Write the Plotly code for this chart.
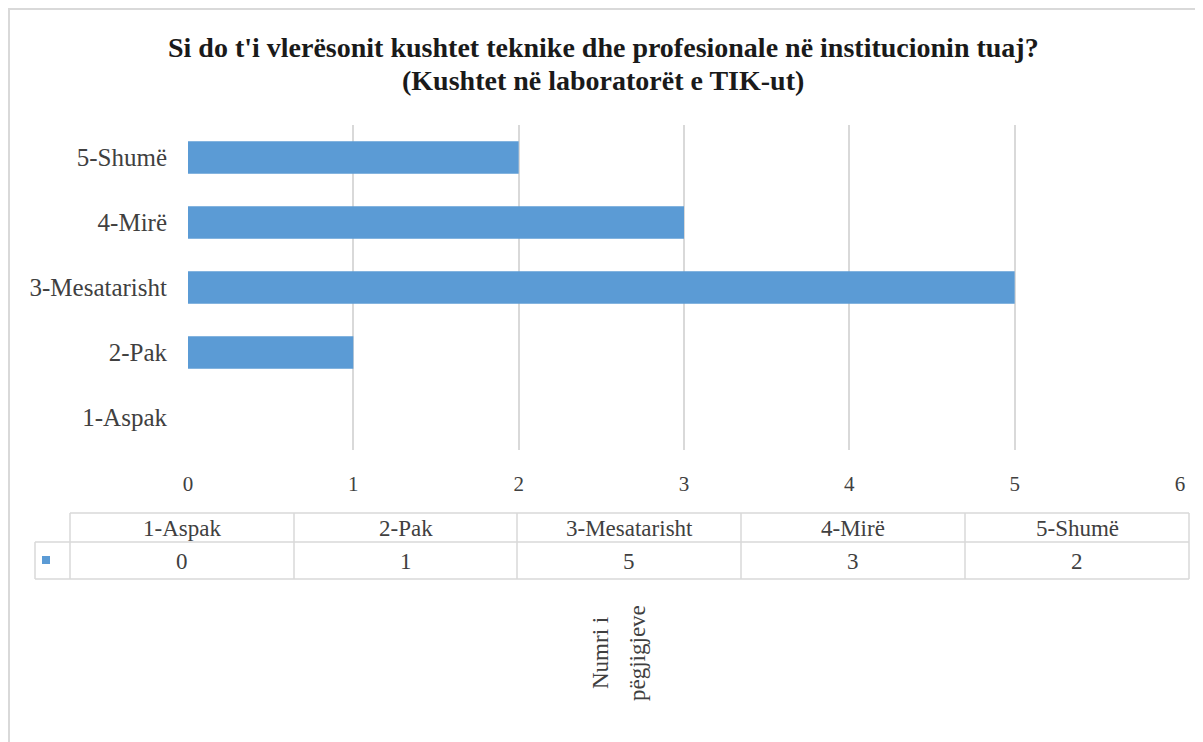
import plotly.graph_objects as go

categories = ["1-Aspak", "2-Pak", "3-Mesatarisht", "4-Mirë", "5-Shumë"]
values = [0, 1, 5, 3, 2]
x_ticks = [0, 1, 2, 3, 4, 5, 6]
title_lines = ["Si do t'i vlerësonit kushtet teknike dhe profesionale në institucionin tuaj?",
               "(Kushtet në laboratorët e TIK-ut)"]
axis_title_lines = ["Numri i", "pëgjigjeve"]

# page body has an 8px margin; reference pixel coords are converted accordingly
OFF = 8
W, H = 1203 - OFF, 742 - OFF
PL, PR, PT, PB = 188, 1180, 125, 450          # plot area in reference pixels
L, R, T, B = PL - OFF, (1203 - PR), PT - OFF, 742 - PB
BAR = "#5b9bd5"
GRID = "#d9d9d9"
TXT = "#404040"
FONT = "Liberation Serif"


def px(x):
    return (x - PL) / (PR - PL)


def py(y):
    return (PB - y) / (PB - PT)


fig = go.Figure(go.Bar(
    x=values, y=categories, orientation="h",
    marker=dict(color=BAR, line=dict(width=0)), width=0.5,
    hoverinfo="x+y", showlegend=False))

shapes = []
annotations = []


def line(x0, y0, x1, y1, color=GRID, w=1.5):
    shapes.append(dict(type="line", xref="paper", yref="paper",
                       x0=px(x0), y0=py(y0), x1=px(x1), y1=py(y1),
                       line=dict(color=color, width=w)))


# outer chart border
shapes.append(dict(type="rect", xref="paper", yref="paper",
                   x0=px(9), y0=py(9), x1=px(1215), y1=py(760),
                   line=dict(color=GRID, width=2), fillcolor="rgba(0,0,0,0)", layer="below"))

# data table below the chart
col_edges = [70, 294, 517, 741, 965, 1189]
y_top, y_mid, y_bot = 513, 542, 579
line(col_edges[0], y_top, col_edges[-1], y_top)
line(35, y_mid, col_edges[-1], y_mid)
line(35, y_bot, col_edges[-1], y_bot)
line(35, y_mid, 35, y_bot)
for xe in col_edges:
    line(xe, y_top, xe, y_bot)
shapes.append(dict(type="rect", xref="paper", yref="paper",
                   x0=px(42), y0=py(556), x1=px(50), y1=py(564),
                   line=dict(width=0), fillcolor=BAR))
for i, (cat, val) in enumerate(zip(categories, values)):
    cx = px((col_edges[i] + col_edges[i + 1]) / 2)
    annotations.append(dict(x=cx, y=py((y_top + y_mid) / 2 + 1), xref="paper", yref="paper",
                            text=cat, showarrow=False, xanchor="center", yanchor="middle",
                            font=dict(family=FONT, size=23, color=TXT)))
    annotations.append(dict(x=cx, y=py((y_mid + y_bot) / 2 + 1), xref="paper", yref="paper",
                            text=str(val), showarrow=False, xanchor="center", yanchor="middle",
                            font=dict(family=FONT, size=23, color=TXT)))

# rotated axis title (two lines)
for txt, xc in zip(axis_title_lines, [600, 637]):
    annotations.append(dict(x=px(xc), y=py(653), xref="paper", yref="paper",
                            text=txt, showarrow=False, textangle=-90,
                            xanchor="center", yanchor="middle",
                            font=dict(family=FONT, size=23, color=TXT)))

# title
for txt, yc in zip(title_lines, [47, 80]):
    annotations.append(dict(x=px(603), y=py(yc), xref="paper", yref="paper",
                            text="<b>" + txt + "</b>", showarrow=False,
                            xanchor="center", yanchor="middle",
                            font=dict(family=FONT, size=28, color="#1a1a1a")))

fig.update_layout(
    width=W, height=H,
    margin=dict(l=L, r=R, t=T, b=B, pad=0),
    paper_bgcolor="white", plot_bgcolor="white",
    shapes=shapes, annotations=annotations,
    bargap=0.5,
    xaxis=dict(range=[0, 6], tickvals=x_ticks, ticktext=[str(t) for t in x_ticks],
               showgrid=True, gridcolor=GRID, gridwidth=1.5, zeroline=False,
               showline=False, ticks="", ticklabelstandoff=19,
               tickfont=dict(family=FONT, size=21, color=TXT), fixedrange=True),
    yaxis=dict(categoryorder="array", categoryarray=categories,
               showgrid=False, zeroline=False, showline=False, ticks="",
               ticklabelstandoff=20,
               tickfont=dict(family=FONT, size=25, color=TXT), fixedrange=True),
)

fig.write_html("out.html", config={"displayModeBar": False})
